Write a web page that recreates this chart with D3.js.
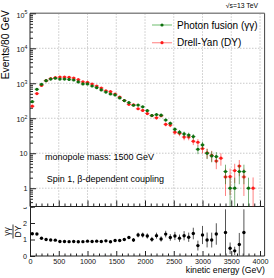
<!DOCTYPE html>
<html><head><meta charset="utf-8">
<script src="https://cdn.jsdelivr.net/npm/d3@7"></script>
<style>body{margin:0;background:#fff}svg{display:block}text{font-family:"Liberation Sans",Arial,Helvetica,sans-serif}</style>
</head><body><svg id="c" width="274" height="278"></svg>
<script>
// ---- data ----
const energy = [40,120,200,280,360,440,520,600,680,760,840,920,1000,1080,1160,1240,1320,1400,1480,1560,1640,1720,1800,1880,1960,2040,2120,2200,2280,2360,2440,2520,2600,2680,2760,2840,2920,3000,3080,3160,3240,3320,3400,3480,3560,3640,3720,3800,3880];
const photonFusion = [298,673,935,1185,1320,1390,1320,1320,1290,1240,1090,955,955,835,750,645,560,494,463,380,320,280,235,238,212,165,120,127,122,89,72,48.5,40,35.6,33,30,13,17.3,10,8.4,8,0,3,1,1,3,3,1,0];
const photonFusionErr = [17,26,31,34,36,37,36,36,36,35,33,31,31,29,27,25,24,22,22,19,18,17,15,15,15,13,11,11,11,9.4,8.5,7,6.3,6,5.7,5.5,3.6,4.2,3.2,2.9,2.8,0,1.7,1,1,1.7,1.7,1,0];
const drellYan = [221,506,866,1185,1360,1448,1500,1500,1483,1409,1267,1098,1061,949,833,733,609,574,493,404,320,250,242,187,167,136,119,103,118,67,64,40,37,29,29,22,20.6,13.6,10.3,8.7,6,7.2,2.1,2.14,3.2,4.3,2.1,0,1];
const drellYanErr = [15,23,30,36,38,39,40,40,40,39,37,34,34,32,30,28,26,25,23,21,18.5,16,16,14,13,12,11,10.5,11,8.5,8.3,6.5,6.3,5.6,5.6,4.9,4.7,3.8,3.3,3.0,2.5,2.8,1.5,1.5,1.8,2.1,1.5,0,1.03];
const ratioErr = [0.04,0.04,0.04,0.04,0.04,0.04,0.04,0.04,0.04,0.04,0.04,0.04,0.04,0.05,0.05,0.05,0.06,0.06,0.06,0.07,0.08,0.09,0.12,0.14,0.15,0.16,0.15,0.18,0.16,0.2,0.2,0.25,0.22,0.28,0.28,0.35,0.3,0.55,0.45,0.45,0.65,0,1.4,0.35,0.25,0.7,1.4,0,0];
const xMajorTicks = [0,500,1000,1500,2000,2500,3000,3500,4000];
const yDecades = [1,10,100,1000,10000,100000];
const ratioTicks = [0,1,2,3];
const legendLabels = ["Photon fusion (\u03b3\u03b3)","Drell-Yan (DY)"];
const notes = ["monopole mass: 1500 GeV","Spin 1, \u03b2-dependent coupling"];

// ---- layout ----
const svg = d3.select("#c");
const L=30, R=264.6, T=13.3, B=206.5, RB=256;
const x = d3.scaleLinear().domain([0,4080]).range([L,R]);
const y = d3.scaleLog().domain([0.3,1e5]).range([B,T]);
const yr = d3.scaleLinear().domain([0,3]).range([RB,B]);
const GREEN="#0d6f0d", RED="#ff1a1a";

// ---- ratio panel ----
const rp = svg.append("g");
rp.append("line").attr("x1",R).attr("x2",R).attr("y1",B).attr("y2",RB).attr("stroke","#333").attr("stroke-width",1);
// left axis
const ra = rp.append("g").attr("transform",`translate(${L},0)`)
  .call(d3.axisLeft(yr).tickValues(ratioTicks).tickSize(-5).tickPadding(3).tickFormat(d3.format("d")));
ra.select(".domain").attr("stroke","#222");
ra.selectAll(".tick line").attr("stroke","#222");
ra.selectAll("text").attr("font-size",7.2).attr("fill","#111");
// bottom axis
const rbx = rp.append("g").attr("transform",`translate(0,${RB})`)
  .call(d3.axisBottom(x).tickValues(xMajorTicks).tickSize(-5).tickPadding(2.5).tickFormat(d3.format("d")));
rbx.select(".domain").attr("stroke","#222").attr("d",`M${L},0H${R}`);
rbx.selectAll(".tick line").attr("stroke","#222");
rbx.selectAll("text").attr("font-size",7.2).attr("fill","#111");
rp.append("g").attr("transform",`translate(0,${RB})`)
  .call(d3.axisBottom(x).tickValues(d3.range(0,4081,100).filter(v=>v%500)).tickSize(-2.5).tickFormat(""))
  .call(g=>{g.select(".domain").remove();g.selectAll("line").attr("stroke","#222");});
// ratio points
const ratio = energy.map((e,i)=>({e, r: (photonFusion[i]>0&&drellYan[i]>0)? photonFusion[i]/drellYan[i] : null, err: ratioErr[i]})).filter(d=>d.r!==null);
const rclip = rp.append("clipPath").attr("id","rclip").append("rect").attr("x",L).attr("y",B).attr("width",R-L).attr("height",RB-B);
const rg = rp.append("g").attr("clip-path","url(#rclip)");
rg.selectAll("line.re").data(ratio).join("line").attr("class","re")
  .attr("x1",d=>x(d.e)).attr("x2",d=>x(d.e))
  .attr("y1",d=>yr(Math.max(0,d.r-d.err))).attr("y2",d=>yr(d.r+d.err))
  .attr("stroke","#555").attr("stroke-width",1);
rg.selectAll("circle").data(ratio).join("circle")
  .attr("cx",d=>x(d.e)).attr("cy",d=>yr(d.r)).attr("r",1.7).attr("fill","#000");
// ratio title (fraction)
const rt = svg.append("g").attr("transform","translate(13,231.5) rotate(-90)");
rt.append("text").attr("x",0).attr("y",-3.4).attr("text-anchor","middle").attr("font-size",8.5).text("\u03b3\u03b3");
rt.append("line").attr("x1",-7).attr("x2",7).attr("y1",0).attr("y2",0).attr("stroke","#000").attr("stroke-width",0.8);
rt.append("text").attr("x",0).attr("y",8).attr("text-anchor","middle").attr("font-size",8.5).text("DY");
// x title
svg.append("text").attr("x",265).attr("y",273).attr("text-anchor","end").attr("font-size",8.7).text("kinetic energy (GeV)");

// ---- main pad (covers top of ratio label) ----
svg.append("rect").attr("x",0).attr("y",0).attr("width",274).attr("height",B+0.6).attr("fill","#fff");
const mp = svg.append("g");
// grid
mp.selectAll("line.gx").data(xMajorTicks.filter(v=>v>0)).join("line").attr("class","gx")
  .attr("x1",d=>x(d)).attr("x2",d=>x(d)).attr("y1",T).attr("y2",B)
  .attr("stroke","#bbb").attr("stroke-width",0.8).attr("stroke-dasharray","1.5,1.5");
mp.selectAll("line.gy").data(yDecades.filter(v=>v<1e5)).join("line").attr("class","gy")
  .attr("x1",L).attr("x2",R).attr("y1",d=>y(d)).attr("y2",d=>y(d))
  .attr("stroke","#bbb").attr("stroke-width",0.8).attr("stroke-dasharray","1.5,1.5");
// frame
mp.append("line").attr("x1",L).attr("x2",R).attr("y1",T).attr("y2",T).attr("stroke","#888").attr("stroke-width",1.5);
mp.append("line").attr("x1",R).attr("x2",R).attr("y1",T).attr("y2",B).attr("stroke","#444").attr("stroke-width",1);
// left axis: majors & minors
const minorY = [];
for (let d=0.1; d<1e5; d*=10) for (let k=2;k<=9;k++){ const v=k*d; if(v>=0.3 && v<1e5) minorY.push(v); }
const la = mp.append("g").attr("transform",`translate(${L},0)`)
  .call(d3.axisLeft(y).tickValues(yDecades).tickSize(-6).tickFormat(""));
la.select(".domain").attr("stroke","#222").attr("d",`M0,${B}V${T}`);
la.selectAll("line").attr("stroke","#222");
mp.append("g").attr("transform",`translate(${L},0)`)
  .call(d3.axisLeft(y).tickValues(minorY).tickSize(-3).tickFormat(""))
  .call(g=>{g.select(".domain").remove();g.selectAll("line").attr("stroke","#222");});
// y labels with superscripts
const ylab = mp.append("g").attr("font-size",7.2).attr("fill","#111");
yDecades.forEach(v=>{
  const p = Math.round(Math.log10(v));
  const t = ylab.append("text").attr("text-anchor","end").attr("x",27.5);
  if (p===0) { t.attr("y",y(v)+2.8).text("1"); }
  else if (p===1) { t.attr("y",y(v)+2.8).text("10"); }
  else { t.attr("y",y(v)+4.2).text("10"); t.append("tspan").attr("font-size",5.2).attr("dy",-3.6).text(p); }
});
// bottom axis of main pad
const ba = mp.append("g").attr("transform",`translate(0,${B})`)
  .call(d3.axisBottom(x).tickValues(xMajorTicks).tickSize(-6).tickFormat(""));
ba.select(".domain").attr("stroke","#222").attr("d",`M${L},0H${R}`);
ba.selectAll("line").attr("stroke","#222");
mp.append("g").attr("transform",`translate(0,${B})`)
  .call(d3.axisBottom(x).tickValues(d3.range(0,4081,100).filter(v=>v%500)).tickSize(-3).tickFormat(""))
  .call(g=>{g.select(".domain").remove();g.selectAll("line").attr("stroke","#222");});
// y title
svg.append("text").attr("transform","translate(9.3,10) rotate(-90)").attr("text-anchor","end").attr("font-size",10.3).text("Events/80 GeV");
// data
svg.append("clipPath").attr("id","mclip").append("rect").attr("x",L).attr("y",T).attr("width",R-L).attr("height",B-T);
const dg = mp.append("g").attr("clip-path","url(#mclip)");
function series(vals, errs, color){
  const pts = energy.map((e,i)=>({e, v: vals[i], err: errs[i]})).filter(d=>d.v>0);
  const g = dg.append("g");
  g.selectAll("line.v").data(pts).join("line")
    .attr("x1",d=>x(d.e)).attr("x2",d=>x(d.e))
    .attr("y1",d=>d.v-d.err>0.3? y(d.v-d.err): B+2).attr("y2",d=>y(d.v+d.err))
    .attr("stroke",color).attr("stroke-opacity",0.55).attr("stroke-width",1);
  g.selectAll("line.h").data(pts).join("line")
    .attr("x1",d=>x(d.e-40)).attr("x2",d=>x(d.e+40)).attr("y1",d=>y(d.v)).attr("y2",d=>y(d.v))
    .attr("stroke",color).attr("stroke-opacity",0.55).attr("stroke-width",1);
  g.selectAll("circle").data(pts).join("circle")
    .attr("cx",d=>x(d.e)).attr("cy",d=>y(d.v)).attr("r",1.6).attr("fill",color);
}
series(drellYan, drellYanErr, RED);
series(photonFusion, photonFusionErr, GREEN);
// legend
const lg = mp.append("g");
[[GREEN,"#8fcc8f"],[RED,"#ff9a9a"]].forEach((c,i)=>{
  const yy = 25 + i*17.7;
  lg.append("line").attr("x1",152).attr("x2",172).attr("y1",yy).attr("y2",yy).attr("stroke",c[1]).attr("stroke-width",1.3);
  lg.append("circle").attr("cx",162).attr("cy",yy).attr("r",1.6).attr("fill",c[0]);
  lg.append("text").attr("x",177).attr("y",yy+3.6).attr("font-size",10).text(legendLabels[i]);
});
// notes
mp.append("text").attr("x",45).attr("y",159.5).attr("font-size",9).text(notes[0]);
mp.append("text").attr("x",46.7).attr("y",181.5).attr("font-size",9).text(notes[1]);
svg.append("text").attr("x",258).attr("y",8.3).attr("text-anchor","end").attr("font-size",6.8).text("\u221as=13 TeV");
</script></body></html>
